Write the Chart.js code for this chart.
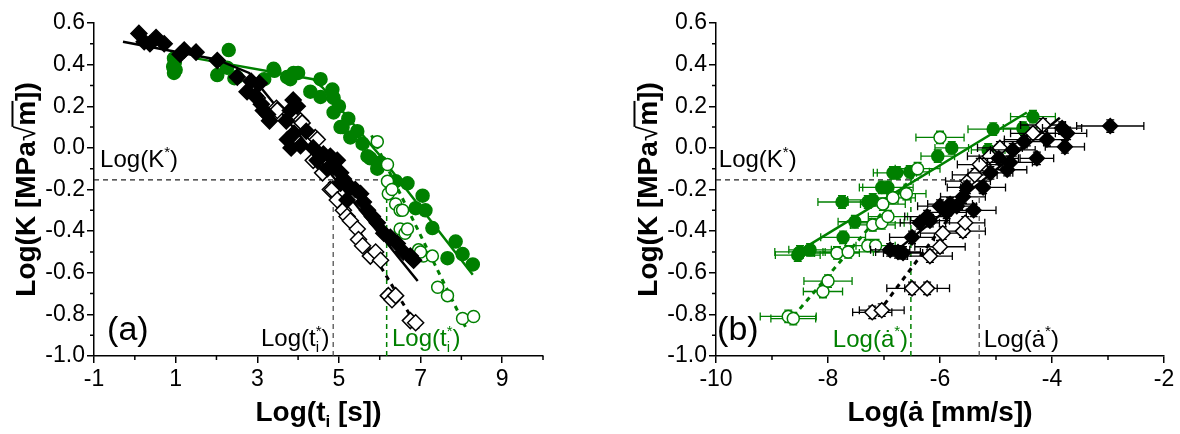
<!DOCTYPE html>
<html>
<head>
<meta charset="utf-8">
<script src="https://cdn.jsdelivr.net/npm/chart.js@4.4.1/dist/chart.umd.min.js"></script>
<style>
html, body { margin: 0; padding: 0; background: #fff; }
#wrap { position: relative; width: 1180px; height: 434px; }
canvas { position: absolute; top: 0; }
</style>
</head>
<body>
<div id="wrap">
    <canvas id="chartA" width="590" height="434" style="left:0"></canvas>
    <canvas id="chartB" width="590" height="434" style="left:590px"></canvas>
</div>
<script>
// ---- panel (a): Log(K) vs Log(t_i) ----
const aBlackFilled = [[0.10,0.55],[0.23,0.51],[0.37,0.50],[0.52,0.53],[0.72,0.50],[1.11,0.45],[1.21,0.47],[1.50,0.46],
    [2.02,0.42],[2.51,0.34],[2.75,0.27],[2.85,0.32],[2.95,0.25],[3.05,0.31],[3.10,0.21],[3.15,0.18],[3.25,0.16],[3.30,0.13],
    [3.71,0.13],[3.74,0.04],[3.81,0.18],[3.88,0.23],[3.83,0.00],[3.90,0.07],[3.98,0.20],[4.06,0.01],[4.20,0.08],[4.37,0.00],
    [4.47,-0.06],[4.62,-0.03],[4.72,-0.10],[4.79,-0.04],[4.87,-0.09],[4.96,-0.06],[5.04,-0.12],[5.11,-0.15],[5.04,-0.17],
    [5.20,-0.25],[5.28,-0.19],[5.40,-0.20],[5.53,-0.22],[5.60,-0.26],[5.70,-0.30],[5.82,-0.33],[5.94,-0.36],[6.10,-0.41],
    [6.26,-0.43],[6.43,-0.46],[6.58,-0.50],[6.75,-0.52],[6.83,-0.54]];
const aBlackOpen = [[2.90,0.26],[3.00,0.24],[3.47,0.19],[3.49,0.18],[4.06,0.13],[4.10,0.12],[4.42,0.05],[4.47,0.04],
    [4.37,-0.06],[4.60,-0.12],[4.79,-0.20],[4.84,-0.20],[4.96,-0.25],[5.11,-0.30],[5.20,-0.33],[5.28,-0.35],[5.45,-0.39],
    [5.48,-0.44],[5.58,-0.47],[5.77,-0.52],[5.90,-0.50],[6.02,-0.54],[6.21,-0.71],[6.30,-0.73],[6.39,-0.71],[6.75,-0.83],[6.88,-0.84]];
const aGreenFilled = [[0.94,0.39],[0.96,0.43],[0.98,0.41],[1.00,0.375],[0.96,0.36],[2.02,0.35],[2.26,0.385],[2.30,0.47],
    [2.44,0.335],[2.50,0.34],[3.17,0.33],[3.40,0.38],[3.42,0.37],[3.73,0.34],[3.81,0.33],[3.89,0.36],[4.00,0.36],[4.30,0.27],
    [4.55,0.33],[4.55,0.245],[4.84,0.28],[4.87,0.24],[4.87,0.17],[5.00,0.20],[5.04,0.10],[5.09,0.10],[5.23,0.14],[5.28,0.05],
    [5.45,0.08],[5.58,0.02],[5.70,-0.04],[5.77,-0.05],[5.94,-0.10],[6.02,-0.07],[6.26,-0.17],[6.39,-0.16],[6.68,-0.17],
    [6.88,-0.29],[7.05,-0.23],[7.12,-0.30],[7.29,-0.385],[7.66,-0.53],[7.86,-0.45],[8.03,-0.51],[8.28,-0.56]];
const aGreenOpen = [[5.94,0.03],[6.19,-0.08],[6.19,-0.16],[6.21,-0.22],[6.30,-0.20],[6.39,-0.27],[6.50,-0.30],[6.56,-0.30],
    [6.50,-0.39],[6.62,-0.41],[6.68,-0.39],[6.95,-0.49],[7.07,-0.52],[7.00,-0.50],[7.29,-0.52],[7.42,-0.67],[7.66,-0.71],
    [8.03,-0.82],[8.30,-0.81]];
const aBlackFit = [[-0.29,0.51],[2.0,0.425],[2.8,0.36],[6.93,-0.64]];
const aGreenFit = [[1.5,0.43],[4.37,0.33],[4.6,0.29],[4.79,0.245],[6.02,-0.04],[7.17,-0.33],[8.28,-0.61]];
const aBlackDash = [[4.5,-0.08],[6.95,-0.87]];
const aGreenDash = [[5.8,0.06],[8.1,-0.86]];
const aTStarBlack = 4.86;
const aTStarGreen = 6.17;

// ---- panel (b): Log(K) vs Log(da/dt), [x, y, x error] ----
const bGreenFilled = [[-8.54,-0.515,0.40],[-8.50,-0.50,0.45],[-8.32,-0.49,0.38],[-7.75,-0.26,0.43],[-7.73,-0.43,0.40],
    [-7.52,-0.355,0.30],[-7.29,-0.26,0.35],[-7.20,-0.25,0.45],[-7.04,-0.19,0.40],[-6.93,-0.19,0.45],[-6.84,-0.12,0.35],
    [-6.77,-0.12,0.35],[-6.54,-0.115,0.35],[-6.04,-0.04,0.30],[-5.79,0.0,0.30],[-5.14,-0.01,0.30],[-5.05,0.09,0.45],
    [-4.52,0.095,0.35],[-4.34,0.15,0.40]];
const bGreenOpen = [[-8.71,-0.81,0.50],[-8.62,-0.82,0.40],[-8.09,-0.69,0.35],[-8.00,-0.64,0.43],[-7.84,-0.505,0.40],
    [-7.64,-0.50,0.45],[-7.29,-0.47,0.40],[-7.15,-0.47,0.35],[-7.20,-0.37,0.40],[-7.04,-0.36,0.40],[-6.93,-0.33,0.35],
    [-7.02,-0.27,0.40],[-6.84,-0.24,0.40],[-6.60,-0.22,0.35],[-6.40,-0.10,0.40],[-6.00,0.05,0.43]];
const bBlackFilled = [[-6.89,-0.49,0.35],[-6.75,-0.50,0.40],[-6.66,-0.505,0.35],[-6.50,-0.43,0.40],[-6.36,-0.36,0.35],
    [-6.23,-0.33,0.40],[-6.18,-0.35,0.35],[-6.00,-0.28,0.40],[-5.88,-0.31,0.35],[-5.82,-0.27,0.40],[-5.70,-0.28,0.35],
    [-5.59,-0.235,0.40],[-5.52,-0.19,0.35],[-5.40,-0.30,0.40],[-5.23,-0.19,0.40],[-5.10,-0.12,0.40],[-4.95,-0.05,0.35],
    [-4.80,-0.105,0.35],[-4.75,-0.07,0.40],[-4.70,-0.01,0.40],[-4.50,0.03,0.35],[-4.27,-0.05,0.30],[-4.09,0.04,0.35],
    [-3.82,0.095,0.35],[-3.77,0.005,0.35],[-3.73,0.07,0.35],[-2.96,0.105,0.60]];
const bBlackOpen = [[-7.21,-0.79,0.35],[-7.04,-0.78,0.40],[-6.50,-0.675,0.45],[-6.23,-0.675,0.40],[-6.18,-0.52,0.40],
    [-6.00,-0.475,0.45],[-5.95,-0.41,0.40],[-5.59,-0.40,0.40],[-5.55,-0.36,0.35],[-5.50,-0.16,0.40],[-5.38,-0.13,0.40],
    [-5.29,-0.08,0.40],[-5.11,-0.04,0.40],[-4.93,0.0,0.40],[-4.45,0.04,0.40],[-4.34,0.07,0.40],[-4.16,0.11,0.40]];
const bGreenFit = [[-8.54,-0.50],[-4.45,0.17]];
const bGreenDash = [[-8.62,-0.81],[-6.3,-0.08]];
const bBlackFit = [[-6.9,-0.52],[-3.86,0.145]];
const bBlackDash = [[-7.1,-0.79],[-5.6,-0.25]];
const bAStarGreen = -6.52;
const bAStarBlack = -5.30;
const yErrB = 0.03;

const logKStar = -0.154;

// ---- axes ----
const xTicksA = [-1, 1, 3, 5, 7, 9];
const xMinorA = [0, 2, 4, 6, 8, 10];
const xTicksB = [-10, -8, -6, -4, -2];
const xMinorB = [-9, -7, -5, -3];
const yTicks = [-1.0, -0.8, -0.6, -0.4, -0.2, 0.0, 0.2, 0.4, 0.6];
const yMinor = [-0.9, -0.7, -0.5, -0.3, -0.1, 0.1, 0.3, 0.5];

const GREEN = '#008000';
const FONT = "'Liberation Sans', Arial, 'DejaVu Sans', sans-serif";

function fontOf(p) {
    return (p.b ? 'bold ' : '') + p.s + 'px ' + FONT;
}

// draws a run of text pieces (sub/superscripts, overline) on one baseline
function drawRich(ctx, x, y, parts, color, align) {
    let w = 0;
    parts.forEach(p => {
        ctx.font = fontOf(p);
        if (!p.stack) w += ctx.measureText(p.t).width;
    });
    let cx = align === 'center' ? x - w / 2 : align === 'right' ? x - w : x;
    ctx.fillStyle = color;
    ctx.textAlign = 'left';
    ctx.textBaseline = 'alphabetic';
    parts.forEach(p => {
        ctx.font = fontOf(p);
        const pw = ctx.measureText(p.t).width;
        ctx.fillText(p.t, cx, y + (p.dy || 0));
        if (p.over) ctx.fillRect(cx - 1, y - p.s * 0.84, pw + 1, 2);
        if (!p.stack) cx += pw;
    });
}

function pts(arr) {
    return arr.map(p => ({ x: p[0], y: p[1] }));
}

function markers(arr, style) {
    return Object.assign({
        data: pts(arr),
        xErr: arr.map(p => p[2] || 0),
        pointRadius: 6,
        pointHoverRadius: 6,
        borderWidth: 1.5
    }, style);
}

function line(arr, style) {
    return Object.assign({
        data: pts(arr),
        showLine: true,
        pointRadius: 0,
        borderWidth: 2.5,
        fill: false,
        tension: 0
    }, style);
}

// horizontal error bars with caps, plus small vertical ones
const errorBars = {
    id: 'errorBars',
    beforeDatasetDraw(chart, args) {
        const ds = chart.data.datasets[args.index];
        if (!ds.xErr || !ds.xErr.some(e => e)) return;
        const xs = chart.scales.x, ys = chart.scales.y, ctx = chart.ctx;
        ctx.save();
        ctx.strokeStyle = ds.borderColor;
        ctx.lineWidth = 1.3;
        ctx.beginPath();
        ds.data.forEach((p, i) => {
            const e = ds.xErr[i];
            if (!e) return;
            const py = ys.getPixelForValue(p.y);
            const px = xs.getPixelForValue(p.x);
            const x0 = xs.getPixelForValue(p.x - e), x1 = xs.getPixelForValue(p.x + e);
            const yt = ys.getPixelForValue(p.y + yErrB), yb = ys.getPixelForValue(p.y - yErrB);
            ctx.moveTo(x0, py); ctx.lineTo(x1, py);
            ctx.moveTo(x0, py - 4); ctx.lineTo(x0, py + 4);
            ctx.moveTo(x1, py - 4); ctx.lineTo(x1, py + 4);
            ctx.moveTo(px, yt); ctx.lineTo(px, yb);
            ctx.moveTo(px - 4, yt); ctx.lineTo(px + 4, yt);
            ctx.moveTo(px - 4, yb); ctx.lineTo(px + 4, yb);
        });
        ctx.stroke();
        ctx.restore();
    }
};

// minor ticks, axis titles and in-plot labels
function decor(o) {
    return {
        id: 'decor',
        afterDraw(chart) {
            const { ctx, chartArea: ca, scales: { x, y } } = chart;
            ctx.save();
            ctx.strokeStyle = '#000';
            ctx.lineWidth = 1.5;
            ctx.beginPath();
            o.xMinor.forEach(v => {
                const px = x.getPixelForValue(v);
                ctx.moveTo(px, ca.bottom); ctx.lineTo(px, ca.bottom + 4);
            });
            o.yMinor.forEach(v => {
                const py = y.getPixelForValue(v);
                ctx.moveTo(ca.left, py); ctx.lineTo(ca.left - 4, py);
            });
            ctx.stroke();
            drawRich(ctx, (ca.left + ca.right) / 2, ca.bottom + 65, o.xTitle, '#000', 'center');
            ctx.translate(ca.left - 59, (ca.top + ca.bottom) / 2);
            ctx.rotate(-Math.PI / 2);
            drawRich(ctx, 0, 0, o.yTitle, '#000', 'center');
            ctx.restore();
            o.notes.forEach(n => {
                ctx.save();
                drawRich(ctx, x.getPixelForValue(n.x), y.getPixelForValue(n.y), n.parts, n.color, n.align);
                ctx.restore();
            });
        }
    };
}

const yTitle = [
    { t: 'Log(K [MPa', s: 28, b: 1 },
    { t: '\u221A', s: 28 },
    { t: 'm', s: 28, b: 1, over: true },
    { t: '])', s: 28, b: 1 }
];
const kStarText = [{ t: 'Log(K', s: 24 }, { t: '*', s: 15, dy: -10 }, { t: ')', s: 24 }];
const tStarText = [{ t: 'Log(t', s: 24 }, { t: 'i', s: 15, dy: 6, stack: true }, { t: '*', s: 15, dy: -10 }, { t: ')', s: 24 }];
const aStarText = [{ t: 'Log(\u0227', s: 24 }, { t: '*', s: 15, dy: -11 }, { t: ')', s: 24 }];

function makeChart(id, o) {
    return new Chart(document.getElementById(id), {
        type: 'scatter',
        data: { datasets: o.datasets },
        options: {
            responsive: false,
            animation: false,
            events: [],
            layout: { padding: { left: 0, right: o.rightPad, top: 23, bottom: 0 } },
            plugins: { legend: { display: false }, tooltip: { enabled: false } },
            scales: {
                x: {
                    type: 'linear',
                    min: o.xMin,
                    max: o.xMax,
                    afterBuildTicks: s => { s.ticks = o.xTicks.map(v => ({ value: v })); },
                    afterFit: s => { s.height = 78; },
                    ticks: { color: '#000', font: { family: FONT, size: 23 }, padding: 3, maxRotation: 0, autoSkip: false,
                        callback: v => String(v) },
                    grid: { drawOnChartArea: false, drawTicks: true, tickLength: 7, color: '#000', lineWidth: 1.5 },
                    border: { display: true, color: '#000', width: 1.5 }
                },
                y: {
                    type: 'linear',
                    min: -1.0,
                    max: 0.6,
                    afterBuildTicks: s => { s.ticks = yTicks.map(v => ({ value: v })); },
                    afterFit: s => { s.width = o.yWidth; },
                    ticks: { color: '#000', font: { family: FONT, size: 23 }, padding: 2, autoSkip: false,
                        callback: v => Number(v).toFixed(1) },
                    grid: { drawOnChartArea: false, drawTicks: true, tickLength: 7, color: '#000', lineWidth: 1.5 },
                    border: { display: true, color: '#000', width: 1.5 }
                }
            }
        },
        plugins: [errorBars, decor(o)]
    });
}

const refDash = { borderWidth: 1.2, borderDash: [5, 4], borderColor: '#222' };
const fitDash = { borderWidth: 3, borderDash: [5, 5] };

makeChart('chartA', {
    xMin: -1, xMax: 10, xTicks: xTicksA, xMinor: xMinorA, yMinor: yMinor, yWidth: 94, rightPad: 47,
    xTitle: [{ t: 'Log(t', s: 28, b: 1 }, { t: 'i', s: 17, b: 1, dy: 6 }, { t: ' [s])', s: 28, b: 1 }],
    yTitle: yTitle,
    notes: [
        { x: -0.85, y: -0.09, parts: kStarText, color: '#000', align: 'left' },
        { x: -0.68, y: -0.925, parts: [{ t: '(a)', s: 34 }], color: '#000', align: 'left' },
        { x: 4.77, y: -0.95, parts: tStarText, color: '#000', align: 'right' },
        { x: 6.3, y: -0.95, parts: tStarText, color: GREEN, align: 'left' }
    ],
    datasets: [
        markers(aBlackFilled, { order: 1, pointStyle: 'rectRot', pointRadius: 8, borderColor: '#000', backgroundColor: '#000' }),
        markers(aBlackOpen, { order: 2, pointStyle: 'rectRot', pointRadius: 8, borderColor: '#000', backgroundColor: '#fff' }),
        line(aBlackFit, { order: 3, borderColor: '#000' }),
        line(aBlackDash, Object.assign({ order: 3, borderColor: '#000' }, fitDash)),
        markers(aGreenOpen, { order: 4, pointStyle: 'circle', borderColor: GREEN, backgroundColor: '#fff' }),
        markers(aGreenFilled, { order: 5, pointStyle: 'circle', pointRadius: 6.5, borderColor: GREEN, backgroundColor: GREEN }),
        line(aGreenFit, { order: 6, borderColor: GREEN }),
        line(aGreenDash, Object.assign({ order: 6, borderColor: GREEN }, fitDash)),
        line([[-1, logKStar], [aTStarGreen, logKStar]], Object.assign({ order: 7 }, refDash)),
        line([[aTStarBlack, logKStar], [aTStarBlack, -1]], Object.assign({ order: 7 }, refDash, { borderColor: '#444' })),
        line([[aTStarGreen, logKStar], [aTStarGreen, -1]], Object.assign({ order: 7 }, refDash, { borderColor: GREEN, borderWidth: 1.5 }))
    ]
});

makeChart('chartB', {
    xMin: -10, xMax: -2, xTicks: xTicksB, xMinor: xMinorB, yMinor: yMinor, yWidth: 126, rightPad: 16,
    xTitle: [{ t: 'Log(\u0227 [mm/s])', s: 28, b: 1 }],
    yTitle: yTitle,
    notes: [
        { x: -9.95, y: -0.09, parts: kStarText, color: '#000', align: 'left' },
        { x: -9.98, y: -0.925, parts: [{ t: '(b)', s: 34 }], color: '#000', align: 'left' },
        { x: -6.57, y: -0.957, parts: aStarText, color: GREEN, align: 'right' },
        { x: -5.22, y: -0.957, parts: aStarText, color: '#000', align: 'left' }
    ],
    datasets: [
        markers(bBlackFilled, { order: 1, pointStyle: 'rectRot', pointRadius: 7.5, borderColor: '#000', backgroundColor: '#000' }),
        markers(bBlackOpen, { order: 2, pointStyle: 'rectRot', pointRadius: 7.5, borderColor: '#000', backgroundColor: '#fff' }),
        line(bBlackFit, { order: 3, borderColor: '#000' }),
        line(bBlackDash, Object.assign({ order: 3, borderColor: '#000' }, fitDash)),
        markers(bGreenOpen, { order: 4, pointStyle: 'circle', borderColor: GREEN, backgroundColor: '#fff' }),
        markers(bGreenFilled, { order: 5, pointStyle: 'circle', pointRadius: 6, borderColor: GREEN, backgroundColor: GREEN }),
        line(bGreenFit, { order: 6, borderColor: GREEN }),
        line(bGreenDash, Object.assign({ order: 6, borderColor: GREEN }, fitDash)),
        line([[-10, logKStar], [bAStarBlack, logKStar]], Object.assign({ order: 7 }, refDash)),
        line([[bAStarBlack, logKStar], [bAStarBlack, -1]], Object.assign({ order: 7 }, refDash, { borderColor: '#444' })),
        line([[bAStarGreen, logKStar], [bAStarGreen, -1]], Object.assign({ order: 7 }, refDash, { borderColor: GREEN, borderWidth: 1.5 }))
    ]
});
</script>
</body>
</html>
